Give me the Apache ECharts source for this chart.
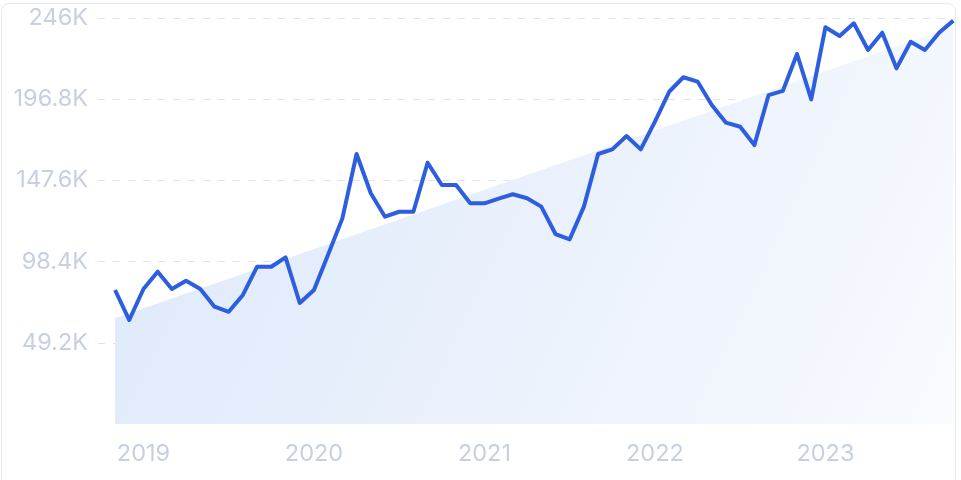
<!DOCTYPE html>
<html>
<head>
<meta charset="utf-8">
<script src="https://cdn.jsdelivr.net/npm/echarts@6/dist/echarts.min.js"></script>
<style>
html,body{margin:0;padding:0;background:#fff;}
#c{width:961px;height:480px;}
</style>
</head>
<body>
<div id="c"></div>
<script>
// Monthly points, Nov 2018 .. Oct 2023
const months = [
 '2018-11','2018-12',
 '2019-01','2019-02','2019-03','2019-04','2019-05','2019-06','2019-07','2019-08','2019-09','2019-10','2019-11','2019-12',
 '2020-01','2020-02','2020-03','2020-04','2020-05','2020-06','2020-07','2020-08','2020-09','2020-10','2020-11','2020-12',
 '2021-01','2021-02','2021-03','2021-04','2021-05','2021-06','2021-07','2021-08','2021-09','2021-10','2021-11','2021-12',
 '2022-01','2022-02','2022-03','2022-04','2022-05','2022-06','2022-07','2022-08','2022-09','2022-10','2022-11','2022-12',
 '2023-01','2023-02','2023-03','2023-04','2023-05','2023-06','2023-07','2023-08','2023-09','2023-10'
];
const values = [
 81200, 63000,
 81800, 92300, 81800, 86800, 81800, 71100, 68000, 78200, 95300, 95300, 101000, 73300,
 81200, 102700, 124600, 163600, 139800, 125600, 128600, 128600, 158300, 144800, 144800, 133700,
 133700, 136600, 139200, 136800, 131700, 115100, 111900, 131700, 163600, 166400, 174500, 166400,
 183200, 201300, 210100, 207500, 193300, 182600, 180100, 169000, 199300, 201800, 224200, 196700,
 240400, 235100, 242800, 226600, 237100, 215500, 231600, 226600, 237100, 244400
];
const trendStart = 64000;
const trendEnd = 240700;
const yTicks = [0, 49200, 98400, 147600, 196800, 246000];

const lineData = values.map((v, i) => [i, v]);
const trendData = [[0, trendStart], [values.length - 1, trendEnd]];
const yearTickIdx = months.map((m, i) => m.endsWith('-01') ? i : -1).filter(i => i >= 0);

const chart = echarts.init(document.getElementById('c'), null, {renderer: 'canvas'});
const labelColor = '#c8cee4';
chart.setOption({
  animation: false,
  grid: {left: 98, right: 7.7, top: 18, bottom: 56, containLabel: false},
  xAxis: {
    type: 'value',
    min: -1.2,
    max: values.length - 1,
    axisLine: {show: false},
    axisTick: {show: false},
    splitLine: {show: false},
    axisLabel: {
      customValues: yearTickIdx,
      formatter: v => months[Math.round(v)] ? months[Math.round(v)].slice(0, 4) : '',
      color: labelColor,
      fontFamily: 'Inter',
      fontSize: 23.5,
      margin: 18
    }
  },
  yAxis: {
    type: 'value',
    min: yTicks[0],
    max: yTicks[yTicks.length - 1],
    interval: yTicks[1] - yTicks[0],
    axisLine: {show: false},
    axisTick: {show: false},
    splitLine: {showMinLine: false, lineStyle: {color: '#dfe3ec', type: [7, 8], width: 1}},
    axisLabel: {
      showMinLabel: false,
      formatter: v => v === 0 ? '' : (Math.round(v / 100) / 10) + 'K',
      color: labelColor,
      fontFamily: 'Inter',
      fontSize: 23.5,
      margin: 10
    }
  },
  graphic: [{
    type: 'rect',
    shape: {x: 1.5, y: 3.5, width: 954, height: 520, r: 8},
    style: {fill: 'none', stroke: '#e3e8f1', lineWidth: 1},
    z: -10
  }],
  series: [
    {
      type: 'line',
      data: trendData,
      symbol: 'none',
      lineStyle: {width: 0, opacity: 0},
      areaStyle: {
        opacity: 1,
        color: new echarts.graphic.LinearGradient(0, 0, 1, 1, [
          {offset: 0, color: '#dce8fa'},
          {offset: 1, color: '#f8fafe'}
        ])
      },
      z: 1,
      silent: true
    },
    {
      type: 'line',
      data: lineData,
      symbol: 'none',
      lineStyle: {color: '#2d5ee0', width: 4, join: 'round'},
      z: 3
    }
  ]
});
</script>
</body>
</html>
